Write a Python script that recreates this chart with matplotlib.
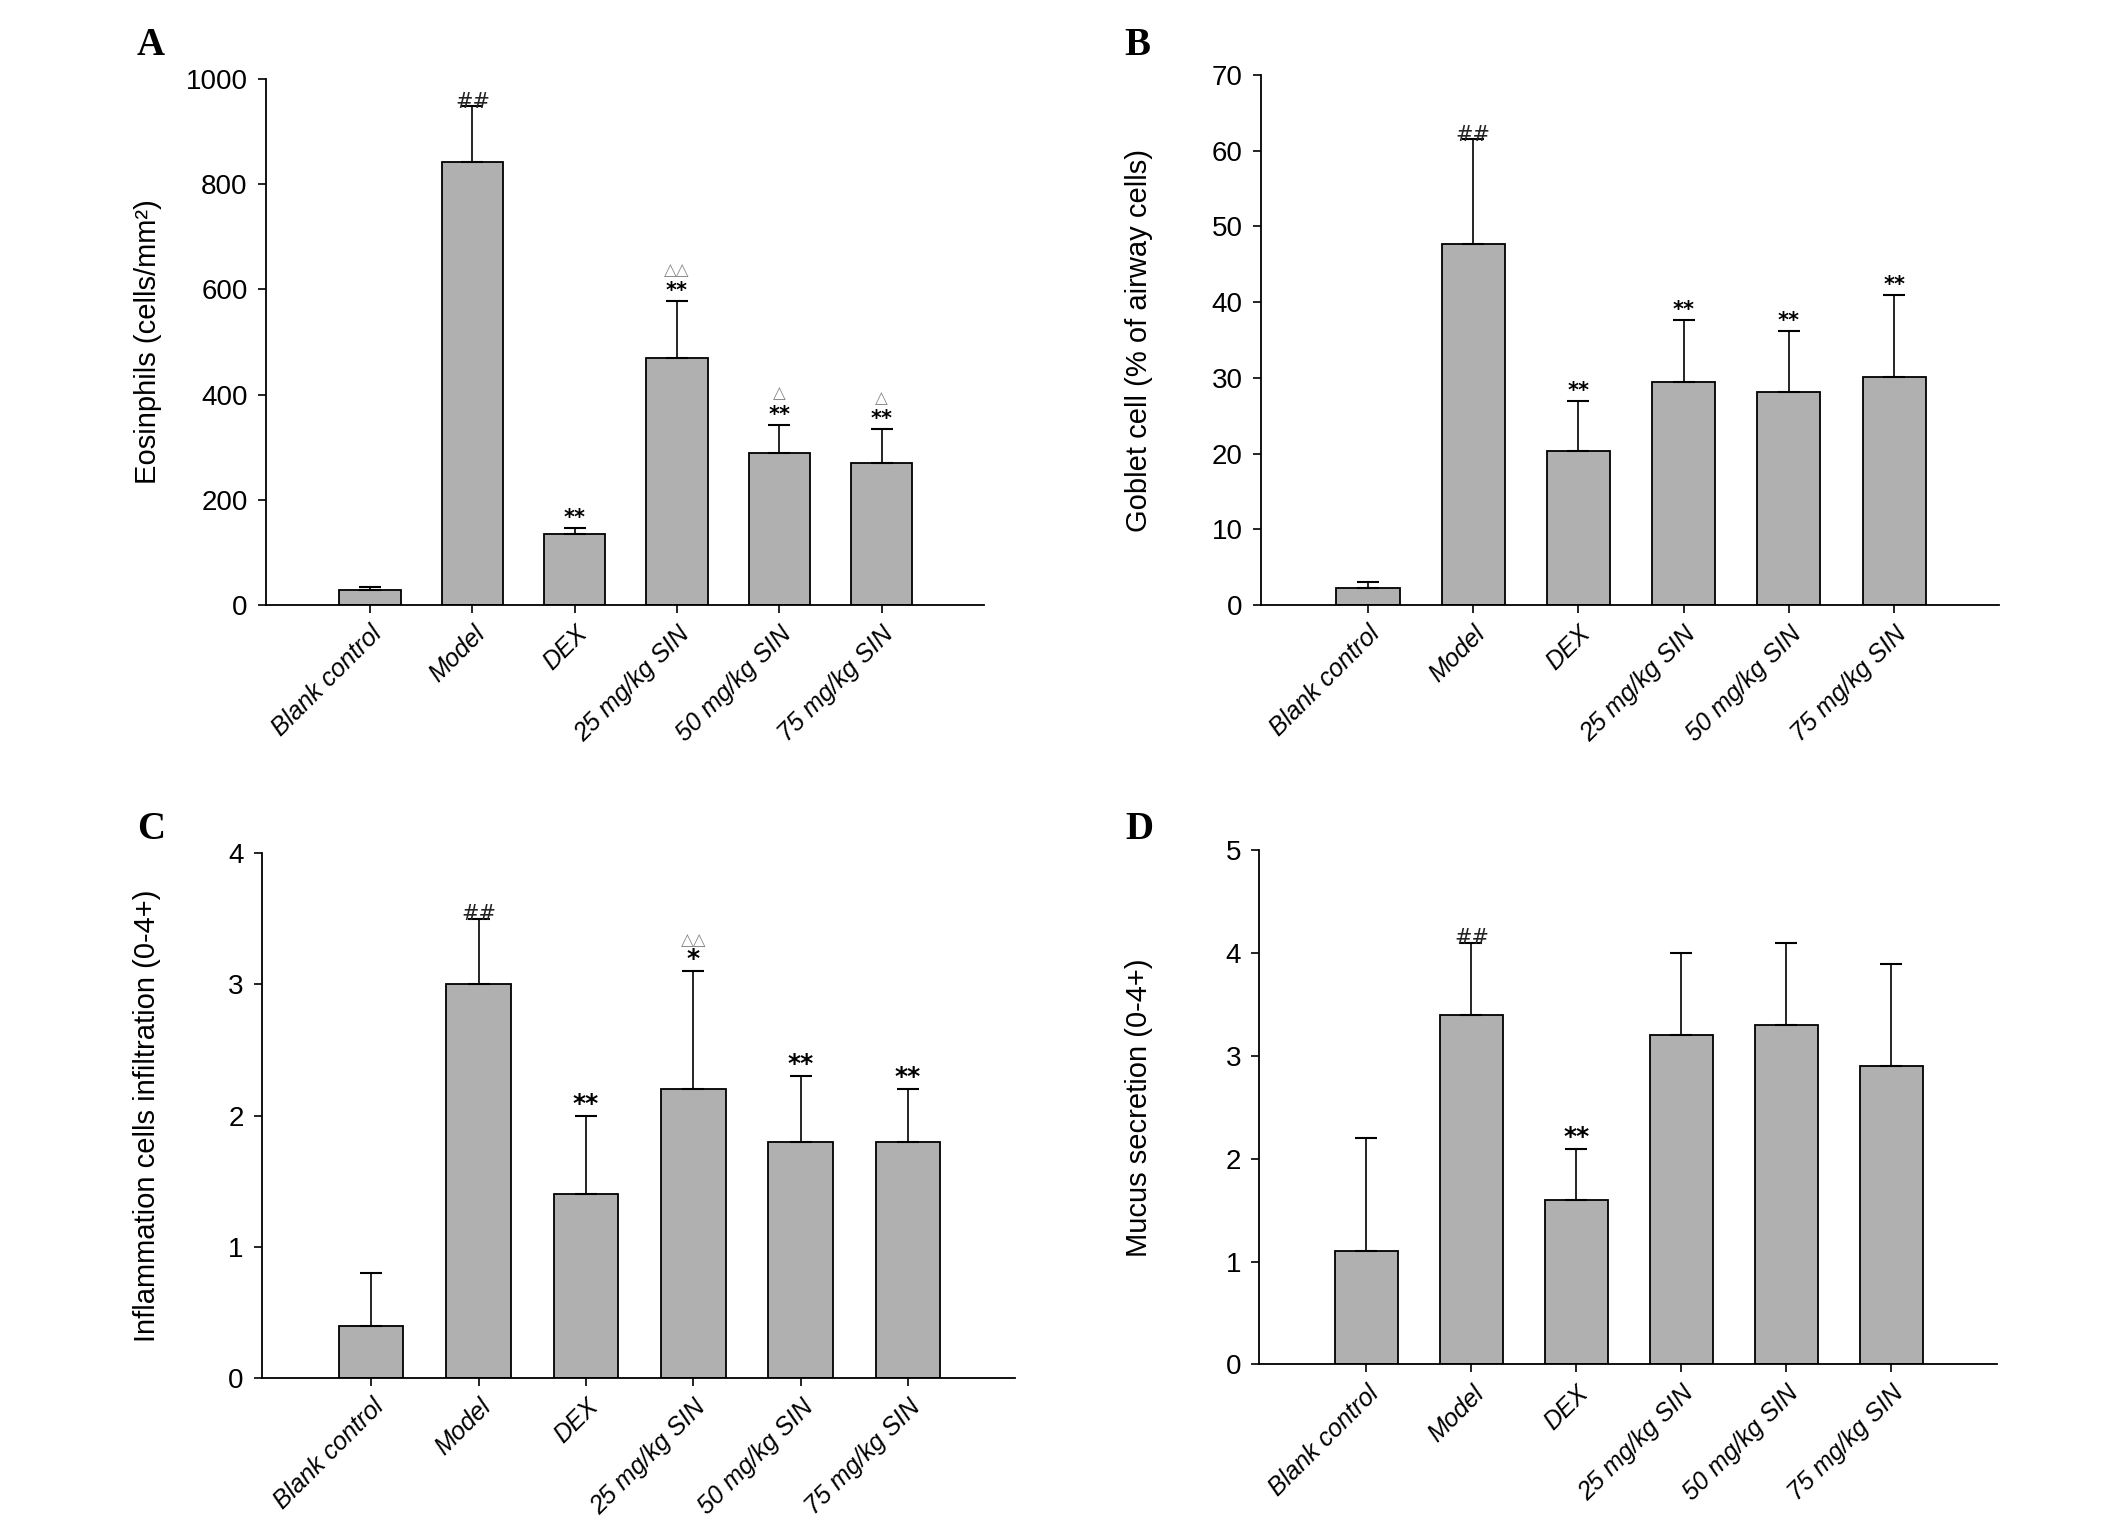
import matplotlib.pyplot as plt
import numpy as np
from matplotlib import font_manager

groups = ['Blank control', 'Model', 'DEX', '25 mg/kg SIN', '50 mg/kg SIN', '75 mg/kg SIN']

# A - eosinophils
eos_mean = [28, 843, 136, 470, 290, 270]
eos_top = [35, 948, 147, 578, 343, 334]
eos_star = ['', '##', '**', '**', '**', '**']
eos_tri = ['', '', '', '\u25b3\u25b3', '\u25b3', '\u25b3']

# B - goblet cells
gob_mean = [2.25, 47.7, 20.4, 29.4, 28.2, 30.1]
gob_top = [3.0, 61.5, 26.9, 37.6, 36.2, 41.0]
gob_star = ['', '##', '**', '**', '**', '**']
gob_tri = ['', '', '', '', '', '']

# C - inflammation score
inf_mean = [0.4, 3.0, 1.4, 2.2, 1.8, 1.8]
inf_top = [0.8, 3.5, 2.0, 3.1, 2.3, 2.2]
inf_star = ['', '##', '**', '*', '**', '**']
inf_tri = ['', '', '', '\u25b3\u25b3', '', '']

# D - mucus score
muc_mean = [1.1, 3.4, 1.6, 3.2, 3.3, 2.9]
muc_top = [2.2, 4.1, 2.1, 4.0, 4.1, 3.9]
muc_star = ['', '##', '**', '', '', '']
muc_tri = ['', '', '', '', '', '']

names = [f.name for f in font_manager.fontManager.ttflist]
tick_font = 'Liberation Sans Narrow' if 'Liberation Sans Narrow' in names else 'Liberation Sans'

fig = plt.figure(figsize=(21.26, 15.17), dpi=100)

panels = [
    ('A', [0.125, 0.6011, 0.3378, 0.3468], 0.071, 0.970, eos_mean, eos_top, eos_star, eos_tri,
     'Eosinphils (cells/mm\u00b2)', 1000, 200, -0.145, 15),
    ('B', [0.593, 0.6011, 0.3474, 0.3495], 0.535, 0.970, gob_mean, gob_top, gob_star, gob_tri,
     'Goblet cell (% of airway cells)', 70, 10, -0.146, 15),
    ('C', [0.1231, 0.0916, 0.3545, 0.3460], 0.071, 0.453, inf_mean, inf_top, inf_star, inf_tri,
     'Inflammation cells infiltration (0-4+)', 4, 1, -0.134, 18),
    ('D', [0.5923, 0.1006, 0.3468, 0.3388], 0.536, 0.453, muc_mean, muc_top, muc_star, muc_tri,
     'Mucus secretion (0-4+)', 5, 1, -0.144, 18),
]

x = np.arange(len(groups))
for letter, rect, lx, ly, mean, top, star, tri, ylab, ymax, ystep, labx, starsize in panels:
    ax = fig.add_axes(rect)
    mean = np.array(mean)
    top = np.array(top)
    ax.bar(x, mean, width=0.6, color='#b0b0b0', edgecolor='black', linewidth=1.3, zorder=2)
    ax.errorbar(x, mean, yerr=[np.zeros_like(mean), top - mean], fmt='none',
                ecolor='black', elinewidth=1.2, capsize=8, capthick=1.5, zorder=3)
    for i in range(len(groups)):
        if star[i]:
            sym = star[i]
            if sym.startswith('#'):
                ax.annotate(sym, (x[i], top[i]), xytext=(0, -4), textcoords='offset points',
                            ha='center', va='bottom', fontsize=15, color='#222222')
            else:
                ax.annotate(sym, (x[i], top[i]), xytext=(0, 0), textcoords='offset points',
                            ha='center', va='bottom', fontsize=starsize, fontweight='bold')
        if tri[i]:
            ax.annotate(tri[i], (x[i], top[i]), xytext=(0, 16), textcoords='offset points',
                        ha='center', va='bottom', fontsize=12, color='#888888',
                        family=['DejaVu Sans'])
    ax.set_xlim(-1.02, 6)
    ax.set_ylim(0, ymax)
    ax.set_yticks(np.arange(0, ymax + ystep / 2, ystep))
    ax.set_xticks(x)
    ax.set_xticklabels(groups, rotation=45, ha='right', rotation_mode='anchor',
                       fontsize=18, fontstyle='italic', family='Liberation Sans')
    for lab in ax.get_yticklabels():
        lab.set_family(tick_font)
        lab.set_fontsize(20)
    ax.tick_params(direction='out', length=6, width=1.2, pad=7)
    ax.tick_params(axis='x', pad=6)
    for s in ['top', 'right']:
        ax.spines[s].set_visible(False)
    for s in ['left', 'bottom']:
        ax.spines[s].set_linewidth(1.3)
    ax.set_ylabel(ylab, fontsize=21, family='Liberation Sans')
    ax.yaxis.set_label_coords(labx, 0.5)
    fig.text(lx, ly, letter, fontsize=28, fontweight='bold', family='Liberation Serif',
             ha='center', va='center')

plt.savefig('out.png', dpi=100)
